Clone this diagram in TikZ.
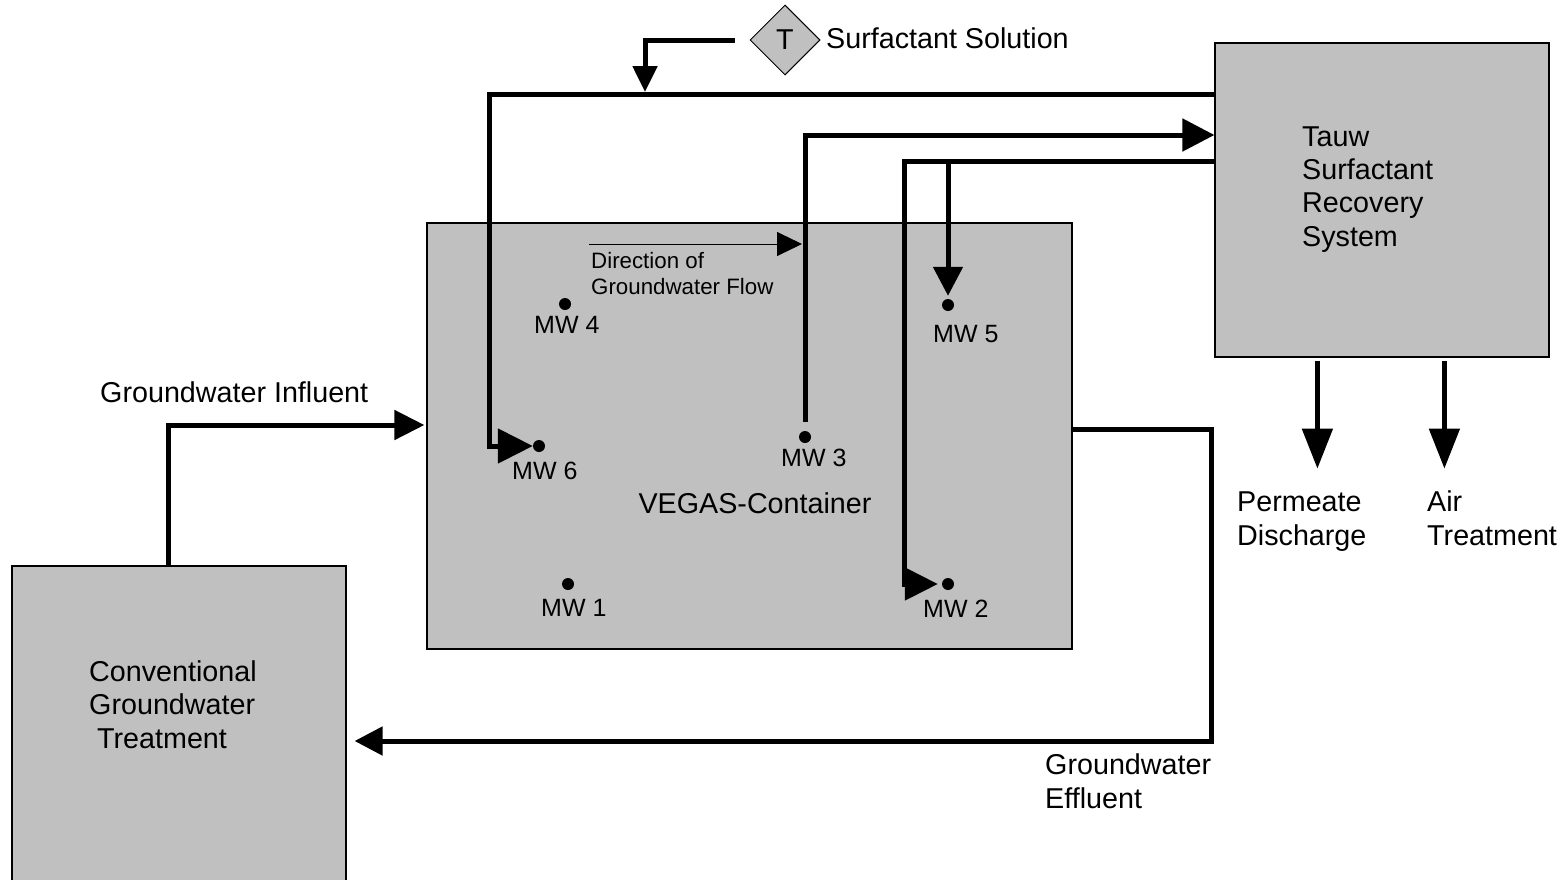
\documentclass[tikz,border=0pt]{standalone}
\usepackage{fontspec}
\setmainfont{Liberation Sans}
\usetikzlibrary{
    arrows.meta,
    positioning,
    calc,
    shapes.geometric
}
\definecolor{unitgray}{HTML}{C0C0C0}
\newcommand{\lblfont}{\fontsize{28.7pt}{33.3pt}\selectfont}
\newcommand{\wellfont}{\fontsize{25pt}{29pt}\selectfont}
\newcommand{\notefont}{\fontsize{22.3pt}{26pt}\selectfont}
\tikzset{
    % --- Process unit (grey box) ---
    unit/.style = {
        rectangle, draw, line width=1.2pt,
        fill=unitgray, inner sep=0pt
    },
    % --- Surfactant tank (diamond) ---
    tank/.style = {
        diamond, draw, line width=1pt, fill=unitgray,
        minimum width=70pt, minimum height=70pt,
        inner sep=0pt, font=\lblfont
    },
    % --- Monitoring well ---
    well/.style = {
        circle, fill=black,
        minimum size=12pt, inner sep=0pt
    },
    % --- Text labels ---
    txt/.style = {
        font=\lblfont, align=left, inner sep=0pt
    },
    welltxt/.style = {
        font=\wellfont, inner sep=0pt
    },
    notetxt/.style = {
        font=\notefont, align=left, inner sep=0pt
    },
    % --- Pipe (thick flow line) ---
    pipe/.style = {
        line width=5pt
    },
    % --- Thin direction arrow ---
    flow arrow/.style = {
        line width=1pt, -{Triangle[length=25pt,width=24pt]}
    }
}

\begin{document}
\begin{tikzpicture}[x=1pt, y=-1pt]

\clip (0,0) rectangle (1568,879);
\fill[white] (0,0) rectangle (1568,879);

% ---------------------------------------------------------
% 1. Units
% ---------------------------------------------------------
\node[unit, minimum width=645pt, minimum height=426pt] (vegas) at (749.5,436) {};
\node[unit, minimum width=334pt, minimum height=314pt] (tauw) at (1382,200) {};
\node[unit, minimum width=334pt, minimum height=330pt] (conv) at (179,731) {};
\node[tank] (tank) at (785,40) {T};

% Labels (base = last line)
\node[txt, anchor=base west] (tanktxt) at (826,48) {Surfactant Solution};
\node[txt, anchor=base west] (tauwtxt) at (1302,246) {Tauw\\Surfactant\\Recovery\\System};
\node[txt, anchor=base] (vegastxt) at (755,513) {VEGAS-Container};
\node[txt, anchor=base west] (convtxt) at (89,748) {Conventional\\Groundwater\\\hspace*{8pt}Treatment};
\node[txt, anchor=base west] (infltxt) at (100,402) {Groundwater Influent};
\node[txt, anchor=base west] (effltxt) at (1045,808) {Groundwater\\Effluent};
\node[txt, anchor=base west] (permtxt) at (1237,545) {Permeate\\Discharge};
\node[txt, anchor=base west] (airtxt) at (1427,545) {Air\\Treatment};

% ---------------------------------------------------------
% 2. Monitoring wells
% ---------------------------------------------------------
\node[well] (mw1) at (568,584) {};
\node[well] (mw2) at (948,584) {};
\node[well] (mw3) at (805,437) {};
\node[well] (mw4) at (565,304) {};
\node[well] (mw5) at (948,305) {};
\node[well] (mw6) at (539,446) {};

\node[welltxt, anchor=base west] (mw1txt) at (541,616) {MW 1};
\node[welltxt, anchor=base west] (mw2txt) at (923,617) {MW 2};
\node[welltxt, anchor=base west] (mw3txt) at (781,466) {MW 3};
\node[welltxt, anchor=base west] (mw4txt) at (534,333) {MW 4};
\node[welltxt, anchor=base west] (mw5txt) at (933,342) {MW 5};
\node[welltxt, anchor=base west] (mw6txt) at (512,479) {MW 6};

% Direction of groundwater flow
\node[notetxt, anchor=base west] (flowtxt) at (591,294) {Direction of\\Groundwater Flow};
\coordinate (flowA) at (589,244);
\coordinate (flowB) at (802,244);
\draw[flow arrow] (flowA) -- (flowB);

% ---------------------------------------------------------
% 3. Pipe levels
% ---------------------------------------------------------
\coordinate (supplyY) at (0,94);
\coordinate (returnY) at (0,135);
\coordinate (feedY) at (0,161);
\coordinate (inflY) at (0,425);
\coordinate (dose) at (645,92);
\coordinate (efflBend) at (1211,741);

% Surfactant dosing
\draw[pipe, -{Triangle[length=26pt,width=24pt]}, shorten <=15pt] (tank.west) -| (dose);

% Tauw -> MW 6
\draw[pipe, -{Triangle[length=35pt,width=34pt]}] (tauw.west |- supplyY) -| ([xshift=-43pt]mw6.west) -- (mw6.west);

% MW 3 -> Tauw
\draw[pipe, -{Triangle[length=32pt,width=32pt]}, shorten <=9pt] (mw3.north) |- (tauw.west |- returnY);

% Tauw -> MW 2 and MW 5
\draw[pipe, -{Triangle[length=33pt,width=32pt]}, shorten >=4pt] (tauw.west |- feedY) -| ([xshift=-37pt]mw2.west) -- (mw2.west);
\draw[pipe, -{Triangle[length=29pt,width=29pt]}, shorten >=3pt] (mw5 |- feedY) -- (mw5.north);

% Tauw outputs
\draw[pipe, -{Triangle[length=40pt,width=30pt]}] ([xshift=103pt,yshift=-3pt]tauw.south west) -- ([xshift=103pt,yshift=-111pt]tauw.south west);
\draw[pipe, -{Triangle[length=40pt,width=30pt]}] ([xshift=230pt,yshift=-3pt]tauw.south west) -- ([xshift=230pt,yshift=-111pt]tauw.south west);

% Groundwater influent
\draw[pipe, -{Triangle[length=30pt,width=29pt]}] ([xshift=157pt]conv.north west) |- ([xshift=-2pt]vegas.west |- inflY);

% Groundwater effluent
\draw[pipe, -{Triangle[length=28pt,width=28pt]}] ([yshift=7pt]vegas.east) -| (efflBend) -- ([xshift=8pt]conv.east |- efflBend);

\end{tikzpicture}
\end{document}
